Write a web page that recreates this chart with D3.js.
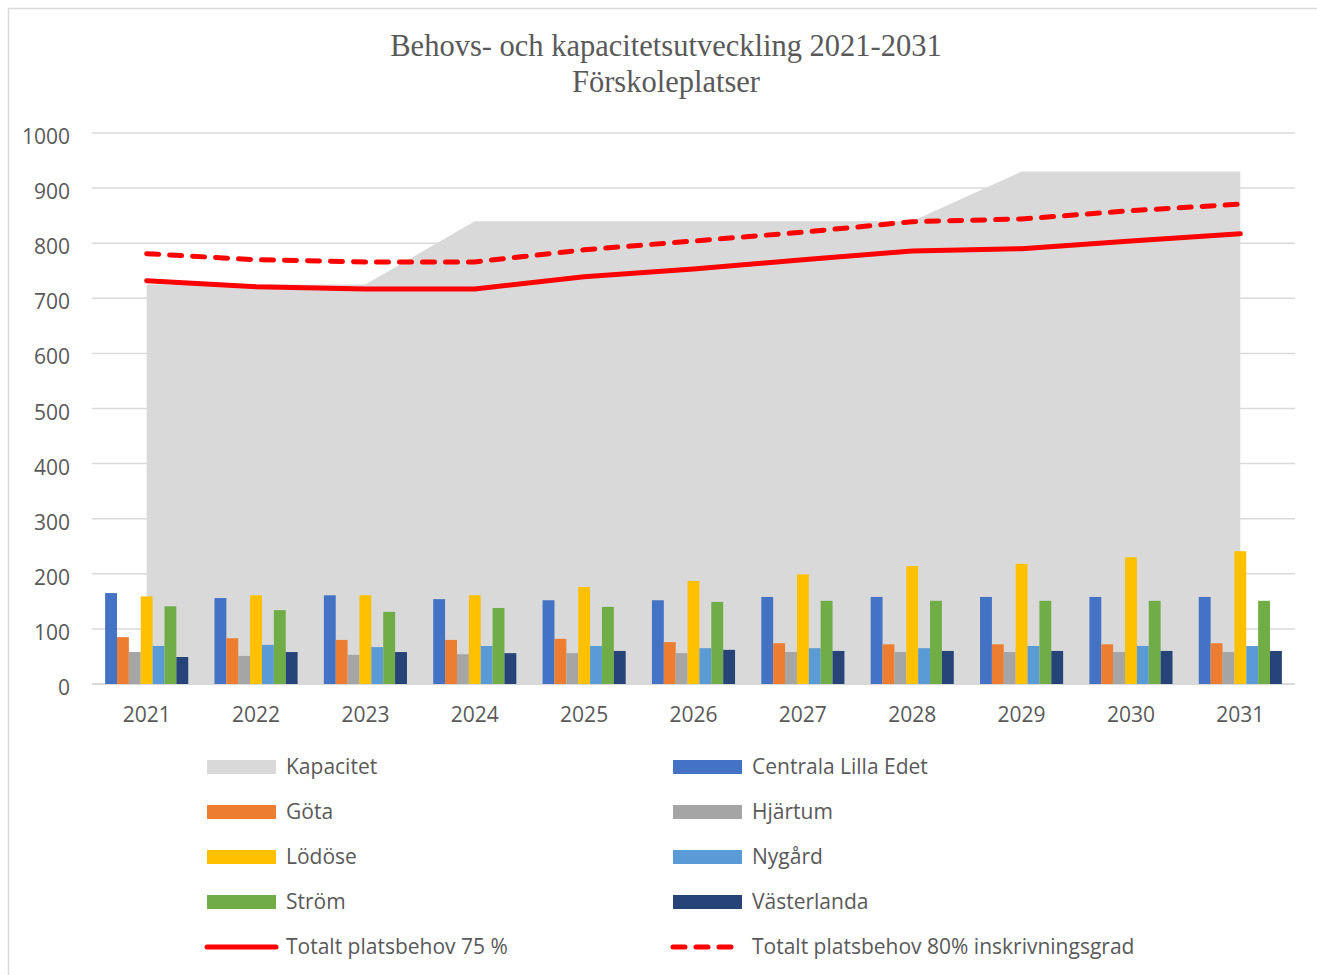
<!DOCTYPE html>
<html>
<head>
<meta charset="utf-8">
<script src="https://cdn.jsdelivr.net/npm/d3@7"></script>
<style>
  body { margin: 0; background: #fff; }
  text { font-family: "Open Sans", Lato, sans-serif; fill: #595959; }
</style>
</head>
<body>
<svg id="chart"></svg>
<script>
// data
const years = ['2021','2022','2023','2024','2025','2026','2027','2028','2029','2030','2031'];
const kapacitet = [725, 725, 725, 840, 840, 840, 840, 840, 930, 930, 930];
const behov75 = [732, 721, 717, 717, 739, 753, 770, 786, 790, 804, 817];
const behov80 = [781, 770, 766, 766, 788, 804, 820, 839, 844, 859, 871];

const areaNames = ['Centrala Lilla Edet','Göta','Hjärtum','Lödöse','Nygård','Ström','Västerlanda'];
const centrala    = [165, 156, 161, 154, 152, 152, 158, 158, 158, 158, 158];
const gota        = [85, 83, 80, 80, 82, 76, 74, 72, 72, 72, 74];
const hjartum     = [58, 51, 53, 54, 56, 56, 58, 58, 58, 58, 58];
const lodose      = [159, 161, 161, 161, 176, 187, 199, 214, 218, 230, 241];
const nygard      = [69, 71, 67, 69, 69, 65, 65, 65, 69, 69, 69];
const strom       = [141, 134, 131, 138, 140, 149, 151, 151, 151, 151, 151];
const vasterlanda = [49, 58, 58, 56, 60, 62, 60, 60, 60, 60, 60];
const areaValues = [centrala, gota, hjartum, lodose, nygard, strom, vasterlanda];
const areaColors = ['#4472C4','#ED7D31','#A5A5A5','#FFC000','#5B9BD5','#70AD47','#264478'];

const yTicks = [0, 100, 200, 300, 400, 500, 600, 700, 800, 900, 1000];
const titleLines = ['Behovs- och kapacitetsutveckling 2021-2031', 'Förskoleplatser'];

class ComboChart {

  constructor(_config) {
    this.config = {
      parentElement: _config.parentElement,
      containerWidth: _config.containerWidth || 1317,
      containerHeight: _config.containerHeight || 975,
      plot: { left: 92, right: 1295, top: 133, bottom: 684 }
    }
    this.initVis();
  }

  initVis() {
    let vis = this;
    const p = vis.config.plot;

    vis.svg = d3.select(vis.config.parentElement)
        .attr('width', vis.config.containerWidth)
        .attr('height', vis.config.containerHeight);

    // outer frame
    vis.svg.append('rect')
        .attr('x', 8.5).attr('y', 8.5)
        .attr('width', vis.config.containerWidth)
        .attr('height', vis.config.containerHeight)
        .attr('fill', 'none')
        .attr('stroke', '#d9d9d9')
        .attr('stroke-width', 1.5);

    // title
    vis.svg.selectAll('.title')
      .data(titleLines)
      .join('text')
      .attr('class', 'title')
      .attr('x', 666)
      .attr('y', (d, i) => 56 + i * 36)
      .attr('text-anchor', 'middle')
      .style('font-family', '"Liberation Serif", "DejaVu Serif", serif')
      .style('font-size', '30.5px')
      .text(d => d);

    vis.xScale = d3.scaleBand()
        .domain(years)
        .range([p.left, p.right])
        .paddingInner(0.24)
        .paddingOuter(0.12);

    vis.xSub = d3.scaleBand()
        .domain(areaNames)
        .range([0, vis.xScale.bandwidth()]);

    vis.yScale = d3.scaleLinear()
        .domain([0, 1000])
        .range([p.bottom, p.top]);

    vis.xMid = d => vis.xScale(d) + vis.xScale.bandwidth() / 2;

    // gridlines
    vis.svg.append('g')
      .selectAll('line')
      .data(yTicks)
      .join('line')
      .attr('x1', p.left).attr('x2', p.right)
      .attr('y1', d => vis.yScale(d)).attr('y2', d => vis.yScale(d))
      .attr('stroke', '#d9d9d9')
      .attr('stroke-width', d => d === 0 ? 2 : 1.5);

    // y axis labels
    vis.svg.append('g')
      .selectAll('text')
      .data(yTicks)
      .join('text')
      .attr('x', 70)
      .attr('y', d => vis.yScale(d) + 11)
      .attr('text-anchor', 'end')
      .style('font-size', '21px')
      .text(d => d);

    // x axis labels
    vis.svg.append('g')
      .selectAll('text')
      .data(years)
      .join('text')
      .attr('x', d => vis.xMid(d))
      .attr('y', 722)
      .attr('text-anchor', 'middle')
      .style('font-size', '21px')
      .text(d => d);

    vis.chart = vis.svg.append('g');
    vis.updateVis();
    vis.renderLegend();
  }

  updateVis() {
    let vis = this;

    // Kapacitet area
    const area = d3.area()
        .x((d, i) => vis.xMid(years[i]))
        .y0(vis.yScale(0))
        .y1(d => vis.yScale(d));

    vis.chart.append('path')
      .attr('d', area(kapacitet))
      .attr('fill', '#d9d9d9');

    // grouped bars
    const groups = vis.chart.selectAll('.yearGroup')
      .data(years)
      .join('g')
      .attr('class', 'yearGroup')
      .attr('transform', d => `translate(${vis.xScale(d)},0)`);

    groups.selectAll('rect')
      .data((d, i) => areaNames.map((name, k) => ({ name: name, value: areaValues[k][i], color: areaColors[k] })))
      .join('rect')
      .attr('x', d => vis.xSub(d.name))
      .attr('y', d => vis.yScale(d.value))
      .attr('width', vis.xSub.bandwidth())
      .attr('height', d => vis.yScale(0) - vis.yScale(d.value))
      .attr('fill', d => d.color);

    // demand lines
    const line = d3.line()
        .x((d, i) => vis.xMid(years[i]))
        .y(d => vis.yScale(d));

    vis.chart.append('path')
      .attr('d', line(behov75))
      .attr('fill', 'none')
      .attr('stroke', '#ff0000')
      .attr('stroke-width', 5)
      .attr('stroke-linecap', 'round')
      .attr('stroke-linejoin', 'round');

    vis.chart.append('path')
      .attr('d', line(behov80))
      .attr('fill', 'none')
      .attr('stroke', '#ff0000')
      .attr('stroke-width', 5)
      .attr('stroke-linecap', 'round')
      .attr('stroke-dasharray', '12,11');
  }

  renderLegend() {
    let vis = this;
    const items = [
      { label: 'Kapacitet', type: 'box', color: '#d9d9d9' },
      { label: areaNames[0], type: 'box', color: areaColors[0] },
      { label: areaNames[1], type: 'box', color: areaColors[1] },
      { label: areaNames[2], type: 'box', color: areaColors[2] },
      { label: areaNames[3], type: 'box', color: areaColors[3] },
      { label: areaNames[4], type: 'box', color: areaColors[4] },
      { label: areaNames[5], type: 'box', color: areaColors[5] },
      { label: areaNames[6], type: 'box', color: areaColors[6] },
      { label: 'Totalt platsbehov 75 %', type: 'line' },
      { label: 'Totalt platsbehov 80% inskrivningsgrad', type: 'dash' }
    ];
    const colX = [207, 673];

    const leg = vis.svg.append('g').selectAll('g')
      .data(items)
      .join('g')
      .attr('transform', (d, i) => `translate(${colX[i % 2]},${774 + Math.floor(i / 2) * 45})`);

    leg.filter(d => d.type === 'box').append('rect')
      .attr('x', 0).attr('y', -14)
      .attr('width', 69).attr('height', 14)
      .attr('fill', d => d.color);

    leg.filter(d => d.type !== 'box').append('line')
      .attr('x1', 0).attr('x2', 69)
      .attr('y1', -7).attr('y2', -7)
      .attr('stroke', '#ff0000')
      .attr('stroke-width', 5)
      .attr('stroke-linecap', 'round')
      .attr('stroke-dasharray', d => d.type === 'dash' ? '12,11' : null);

    leg.append('text')
      .attr('x', 79)
      .attr('y', 0)
      .style('font-size', '21px')
      .text(d => d.label);
  }
}

new ComboChart({ parentElement: '#chart' });
</script>
</body>
</html>
